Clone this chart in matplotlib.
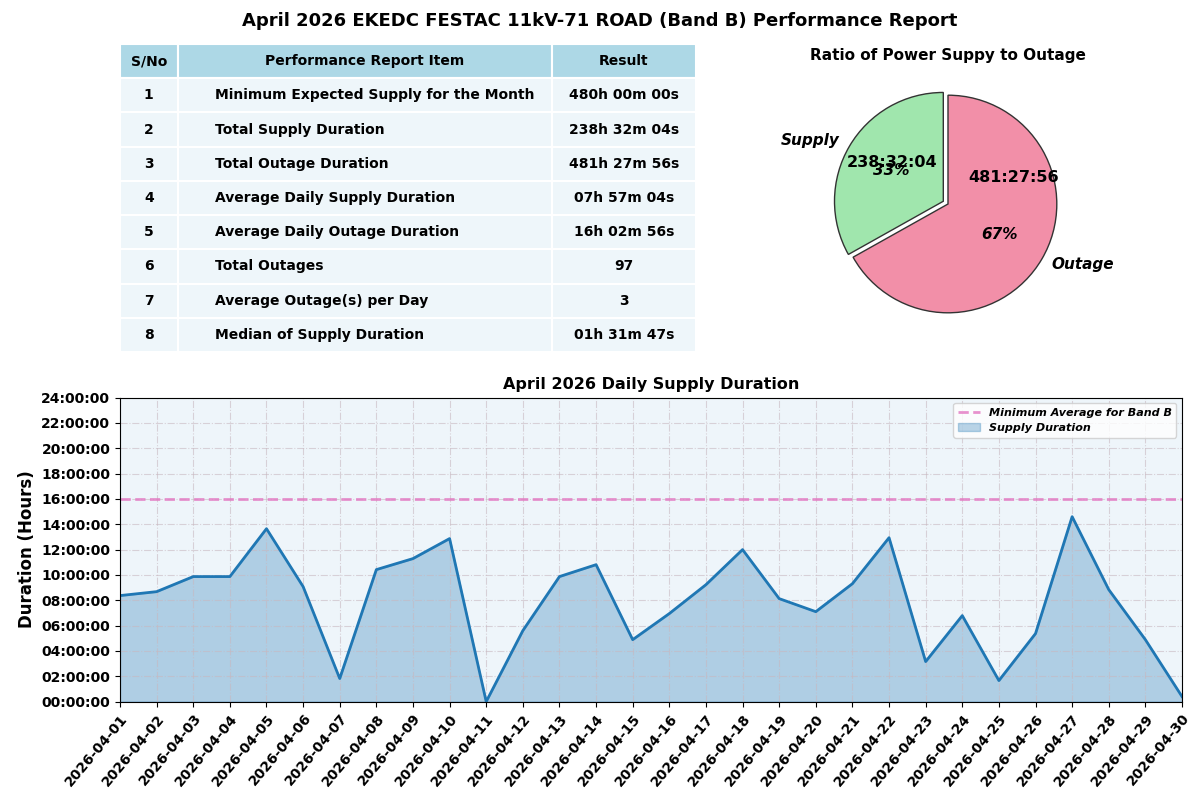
import matplotlib.pyplot as plt
import numpy as np

dates = [f"2026-04-{d:02d}" for d in range(1, 31)]
supply_hours = [8.37, 8.68, 9.87, 9.87, 13.65, 9.08, 1.82, 10.42, 11.29, 12.87,
                0.0, 5.6, 9.87, 10.81, 4.89, 6.95, 9.23, 12.0, 8.13, 7.1,
                9.31, 12.94, 3.16, 6.79, 1.66, 5.37, 14.6, 8.84, 4.89, 0.4]
min_avg = 16

table_cols = ["S/No", "Performance Report Item", "Result"]
table_items = ["Minimum Expected Supply for the Month", "Total Supply Duration",
               "Total Outage Duration", "Average Daily Supply Duration",
               "Average Daily Outage Duration", "Total Outages",
               "Average Outage(s) per Day", "Median of Supply Duration"]
table_results = ["480h 00m 00s", "238h 32m 04s", "481h 27m 56s", "07h 57m 04s",
                 "16h 02m 56s", "97", "3", "01h 31m 47s"]

pie_labels = ["Supply", "Outage"]
pie_values = [238.534, 481.466]
pie_texts = ["238:32:04", "481:27:56"]

plt.rcParams['font.weight'] = 'bold'
fig = plt.figure(figsize=(12, 8), dpi=100)
fig.suptitle("April 2026 EKEDC FESTAC 11kV-71 ROAD (Band B) Performance Report",
             fontsize=13, fontweight='bold', y=0.985)

# table
axt = fig.add_axes([0.10, 0.56, 0.48, 0.385])
axt.axis('off')
rows = [[str(i + 1), table_items[i], table_results[i]] for i in range(len(table_items))]
tbl = axt.table(cellText=rows, colLabels=table_cols, loc='center',
                colWidths=[0.1, 0.65, 0.25], cellLoc='center', bbox=[0, 0, 1, 1])
tbl.auto_set_font_size(False)
tbl.set_fontsize(10)
for (r, c), cell in tbl.get_celld().items():
    cell.set_edgecolor('white')
    cell.set_linewidth(1.5)
    cell.get_text().set_fontweight('bold')
    if r == 0:
        cell.set_facecolor('#add8e6')
    else:
        cell.set_facecolor('#eef6fa')
        if c == 1:
            cell.get_text().set_ha('left')
            cell._loc = 'left'

# pie
axp = fig.add_axes([0.64, 0.575, 0.3, 0.34])
wedges, texts, autotexts = axp.pie(pie_values, labels=pie_labels, explode=[0.05, 0],
                                   colors=['#a0e6ad', '#f28fa8'], startangle=90,
                                   autopct='%1.0f%%', pctdistance=0.55,
                                   wedgeprops=dict(edgecolor='#333333', linewidth=1),
                                   textprops=dict(fontsize=11, fontweight='bold', style='italic'))
for w, t, r, dy in zip(wedges, pie_texts, [0.6, 0.7], [0.08, 0.6]):
    ang = np.deg2rad((w.theta1 + w.theta2) / 2)
    axp.text(r * np.cos(ang), r * np.sin(ang) + dy, t, ha='center', va='center',
             fontsize=11.5, fontweight='bold')
axp.set_title("Ratio of Power Suppy to Outage", fontsize=11, fontweight='bold')

# line chart
ax = fig.add_axes([0.1, 0.123, 0.885, 0.38])
x = np.arange(len(dates))
ax.set_facecolor('#eef5fa')
ax.axhline(min_avg, color='#e377c2', ls='--', lw=2, alpha=0.8, label='Minimum Average for Band B')
ax.fill_between(x, supply_hours, color='#1f77b4', alpha=0.3, label='Supply Duration')
ax.plot(x, supply_hours, color='#1f77b4', lw=2)
ax.set_xlim(0, len(dates) - 1)
ax.set_ylim(0, 24)
ax.set_yticks(range(0, 25, 2))
ax.set_yticklabels([f"{h:02d}:00:00" for h in range(0, 25, 2)])
ax.set_xticks(x)
ax.set_xticklabels(dates, rotation=50, ha='right', rotation_mode='anchor')
ax.tick_params(labelsize=10)
ax.grid(True, ls='-.', color='#c8b8c0', alpha=0.6)
ax.set_ylabel("Duration (Hours)", fontsize=12, fontweight='bold')
ax.set_title("April 2026 Daily Supply Duration", fontsize=11.5, fontweight='bold')
ax.legend(loc='upper right', prop=dict(size=8, style='italic', weight='bold'))

fig.savefig('out.png')
